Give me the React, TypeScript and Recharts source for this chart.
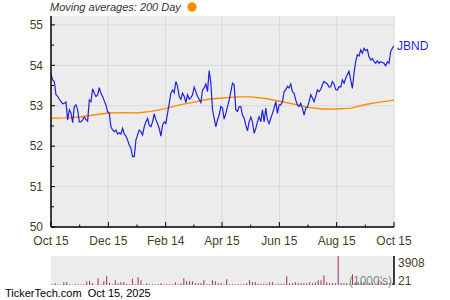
import { LineChart, Line, XAxis, YAxis, CartesianGrid, BarChart, Bar, LabelList } from 'recharts';

const FONT = '"Liberation Sans", Arial, sans-serif';

const startDate = '2024-10-15';
const endDate = '2025-10-15';
const tickDates = ['2024-10-15', '2024-12-15', '2025-02-14', '2025-04-15', '2025-06-15', '2025-08-15', '2025-10-15'];
const tickLabels = ['Oct 15', 'Dec 15', 'Feb 14', 'Apr 15', 'Jun 15', 'Aug 15', 'Oct 15'];
const priceTicks = [50, 51, 52, 53, 54, 55];
const volumeTicks = [21, 3908];

// daily closes, evenly spaced over the year
const closesOctJan = [
  53.79, 53.64, 53.6, 53.27, 53.23, 53.16, 53.1, 53.05, 53.06, 53.09, 52.65, 52.9, 52.82, 52.58, 52.98, 53.02,
  52.9, 52.6, 52.6, 52.65, 52.72, 52.66, 52.62, 53.14, 53.1, 53.42, 53.31, 53.23, 53.27, 53.45, 53.3, 53.23,
  53.12, 53.02, 52.85, 52.82, 52.48, 52.4, 52.36, 52.4, 52.3, 52.33, 52.3, 52.44, 52.3, 52.25, 52.15, 52.03,
  51.95, 51.74, 51.74, 52.15, 52.28,
];
const closesJanApr = [
  52.4, 52.36, 52.28, 52.48, 52.6, 52.69, 52.52, 52.48, 52.6, 52.8, 52.65, 52.56, 52.44, 52.25, 52.52, 52.6,
  52.56, 52.81, 53.06, 53.31, 53.39, 53.32, 53.6, 53.48, 53.23, 53.16, 53.31, 53.23, 53.08, 53.27, 53.16, 53.2,
  53.27, 53.46, 53.35, 53.23, 53.16, 53.08, 53.39, 53.44, 53.54, 53.35, 53.87, 53.56, 52.9, 52.69, 52.48, 52.65,
  52.77, 52.98,
];
const closesAprJul = [
  52.94, 52.67, 52.81, 52.98, 53.14, 53.35, 53.56, 53.52, 52.9, 52.86, 52.98, 52.98, 52.77, 52.69, 52.52, 52.38,
  52.6, 52.72, 52.6, 52.32, 52.44, 52.6, 52.73, 52.6, 52.9, 52.6, 52.94, 52.65, 52.56, 52.69, 52.81, 52.94,
  53.1, 52.81, 53.02, 53.02, 53.1, 53.35, 53.39, 53.48, 53.44, 53.54, 53.35, 53.31, 53.14, 53.02, 52.98, 53.06,
  52.94, 52.77, 52.94, 52.96,
];
const closesJulOct = [
  53.1, 53.27, 53.19, 53.1, 53.23, 53.39, 53.35, 53.4, 53.52, 53.6, 53.57, 53.54, 53.46, 53.47, 53.6, 53.54,
  53.4, 53.39, 53.47, 53.46, 53.64, 53.56, 53.68, 53.77, 53.85, 53.64, 53.43, 53.81, 54.09, 54.26, 54.23, 54.38,
  54.3, 54.42, 54.36, 54.39, 54.21, 54.13, 54.17, 54.09, 54.05, 54.11, 54.05, 54.09, 54.07, 54.05, 53.99, 54.09,
  54.05, 54.34, 54.42, 54.48,
];

// 200 day moving average, evenly spaced
const movingAvg200 = [
  52.69, 52.7, 52.72, 52.77, 52.82, 52.83, 52.82, 52.86, 52.93, 53.02, 53.09, 53.16, 53.19,
  53.22, 53.22, 53.18, 53.11, 53.04, 52.96, 52.92, 52.92, 52.94, 53.03, 53.09, 53.14,
];

// volume in 1000's
const volumes = [
  130, 270, 130, 60, 400, 400, 130, 60, 130, 130, 130, 130, 490, 580, 270, 60, 940, 130, 540, 1200,
  310, 130, 670, 270, 400, 400, 150, 130, 850, 130, 1070, 670, 130, 270, 130, 130, 130, 130, 270, 130,
  130, 130, 130, 400, 130, 270, 940, 540, 540, 540, 270, 270, 270, 670, 130, 130, 670, 540, 270, 270,
  130, 800, 130, 130, 130, 130, 130, 130, 270, 670, 400, 400, 200, 200, 200, 200, 400, 400, 130, 200,
  200, 200, 1200, 270, 270, 400, 270, 270, 270, 270, 400, 270, 400, 670, 670, 1300, 400, 270, 270, 270,
  3908, 300, 300, 300, 130, 1470, 400, 400, 400, 400, 270, 270, 270, 130, 670, 500, 270, 270, 270, 270,
];

const dayOf = (d: string) => (Date.parse(d) - Date.parse(startDate)) / 86400000;
const totalDays = dayOf(endDate);
const majorDays = tickDates.map(dayOf);
const minorDays = majorDays.slice(1).map((d, i) => (d + majorDays[i]) / 2);
const allDayTicks = [...majorDays, ...minorDays].sort((a, b) => a - b);
const halfTicks = priceTicks.flatMap((t) => (t < 55 ? [t, t + 0.5] : [t]));

const closes = [...closesOctJan, ...closesJanApr, ...closesAprJul, ...closesJulOct];
const priceData = closes.map((close, i) => ({ day: (i * totalDays) / (closes.length - 1), close }));
const maData = movingAvg200.map((ma, i) => ({ day: (i * totalDays) / (movingAvg200.length - 1), ma }));
const volumeData = volumes.map((vol, i) => ({ i, vol }));

function DateTick({ x, y, payload }: any) {
  const idx = majorDays.indexOf(payload.value);
  const major = idx >= 0;
  return (
    <g>
      <line x1={x} x2={x} y1={y} y2={y - (major ? 5 : 2.5)} stroke="#000" />
      {major && (
        <text x={x} y={y + 18} textAnchor="middle" fontSize={12} fill="#4a3c22" fontFamily={FONT}>
          {tickLabels[idx]}
        </text>
      )}
    </g>
  );
}

function PriceTick({ x, y, payload }: any) {
  const major = Number.isInteger(payload.value);
  return (
    <g>
      <line x1={x} x2={x + (major ? 4 : 3)} y1={y} y2={y} stroke="#000" />
      {major && (
        <text x={x - 8} y={y + 4.3} textAnchor="end" fontSize={12} fill="#4a3c22" fontFamily={FONT}>
          {payload.value}
        </text>
      )}
    </g>
  );
}

function VolumeTick({ x, y, payload }: any) {
  const top = payload.value === volumeTicks[1];
  return (
    <text x={x + 4} y={top ? y + 11 : y} fontSize={12} fill="#4a3c22" fontFamily={FONT}>
      {payload.value}
    </text>
  );
}

function EndLabel({ x, y, index }: any) {
  if (index !== priceData.length - 1) return null;
  return (
    <text x={x + 3} y={y + 4} fontSize={12} fill="#1f1fe0" fontFamily={FONT}>
      JBND
    </text>
  );
}

export default function App() {
  return (
    <div style={{ position: 'absolute', left: 0, top: 0, width: 450, height: 300, background: '#fff' }}>
      <div style={{ position: 'absolute', left: 0, top: 0 }}>
        <LineChart width={450} height={250} margin={{ top: 16, right: 56, bottom: 3, left: 0 }}>
          <CartesianGrid
            fill="#ececec"
            stroke="#d9d9d9"
            horizontalValues={priceTicks}
            verticalValues={majorDays.slice(1)}
          />
          <XAxis
            type="number"
            dataKey="day"
            domain={[0, totalDays]}
            ticks={allDayTicks}
            interval={0}
            tick={<DateTick />}
            tickLine={false}
            tickSize={0}
            tickMargin={0}
            height={20}
            axisLine={{ stroke: '#000', strokeWidth: 1.5 }}
            allowDataOverflow
          />
          <YAxis
            type="number"
            domain={[50, 55.22]}
            ticks={halfTicks}
            interval={0}
            tick={<PriceTick />}
            tickLine={false}
            tickSize={0}
            tickMargin={0}
            width={51}
            axisLine={{ stroke: '#000', strokeWidth: 1.5 }}
            allowDataOverflow
          />
          <Line
            data={maData}
            dataKey="ma"
            type="linear"
            stroke="#ff8c00"
            strokeWidth={1.4}
            dot={false}
            isAnimationActive={false}
          />
          <Line
            data={priceData}
            dataKey="close"
            type="linear"
            stroke="#1f1fe0"
            strokeWidth={1.2}
            dot={false}
            isAnimationActive={false}
          >
            <LabelList dataKey="close" content={<EndLabel />} />
          </Line>
        </LineChart>
      </div>
      <div style={{ position: 'absolute', left: 0, top: 250 }}>
        <BarChart
          width={450}
          height={50}
          data={volumeData}
          margin={{ top: 6, right: 0, bottom: 15, left: 51 }}
          barCategoryGap="30%"
        >
          <CartesianGrid fill="#ececec" stroke="none" yAxisId="vol" />
          <XAxis dataKey="i" height={0} tick={false} tickLine={false} axisLine={{ stroke: '#000', strokeWidth: 1.5 }} />
          <XAxis
            xAxisId="top"
            dataKey="i"
            orientation="top"
            height={0}
            tick={false}
            tickLine={false}
            axisLine={{ stroke: '#000', strokeWidth: 1.5 }}
          />
          <YAxis
            yAxisId="vol"
            orientation="right"
            type="number"
            domain={volumeTicks}
            ticks={volumeTicks}
            interval={0}
            width={56}
            tick={<VolumeTick />}
            tickLine={false}
            tickSize={0}
            tickMargin={0}
            axisLine={{ stroke: '#000', strokeWidth: 1.5 }}
            allowDataOverflow
          />
          <YAxis
            yAxisId="frame"
            orientation="left"
            width={0}
            tick={false}
            tickLine={false}
            axisLine={{ stroke: '#000', strokeWidth: 1.5 }}
          />
          <Bar yAxisId="vol" dataKey="vol" fill="#9c2c65" isAnimationActive={false} />
        </BarChart>
      </div>
      <svg
        width={450}
        height={300}
        style={{ position: 'absolute', left: 0, top: 0, pointerEvents: 'none' }}
        fontFamily={FONT}
      >
        <text x={50} y={11} fontSize={11} fontStyle="italic" fill="#333">
          Moving averages: 200 Day
        </text>
        <circle cx={192} cy={7} r={4.7} fill="#ff8c00" />
        <text x={392} y={285} fontSize={12} textAnchor="end" fill="#5c7d6c" fillOpacity={0.85}>
          (1000's)
        </text>
        <text x={5} y={297} fontSize={11} fill="#000" xmlSpace="preserve">
          TickerTech.com  Oct 15, 2025
        </text>
      </svg>
    </div>
  );
}
